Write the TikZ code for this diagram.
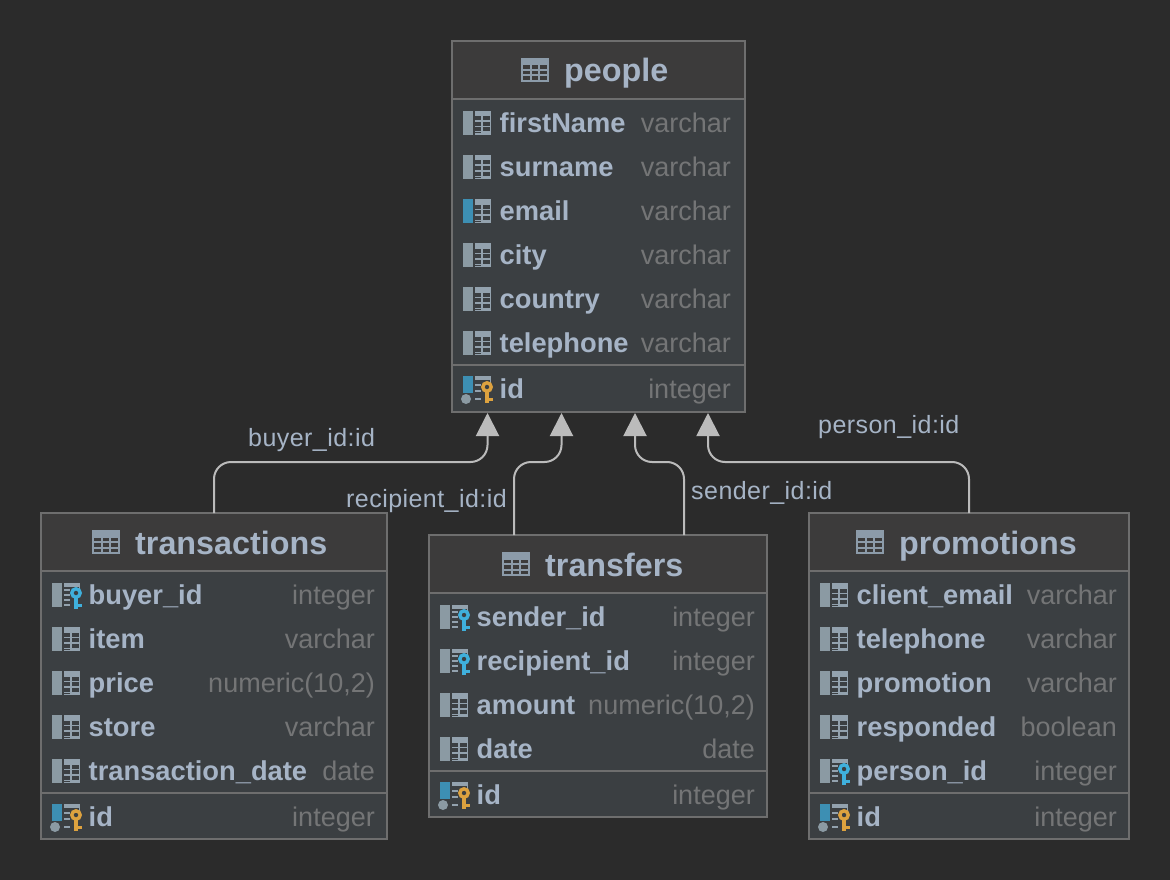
\documentclass[tikz,border=0pt]{standalone}
\usepackage{fontspec}
\setmainfont{Liberation Sans}
\usetikzlibrary{arrows.meta}
\definecolor{bgc}{HTML}{2B2B2B}
\definecolor{headc}{HTML}{3C3B3B}
\definecolor{bodyc}{HTML}{3B3F42}
\definecolor{edgec}{HTML}{6E6E6E}
\definecolor{textc}{HTML}{A6B4C6}
\definecolor{typec}{HTML}{747576}
\definecolor{iconc}{HTML}{93A2AE}
\definecolor{ticonc}{HTML}{8C9BA9}
\definecolor{barc}{HTML}{8B9AA3}
\definecolor{idxc}{HTML}{3D8FB3}
\definecolor{fkc}{HTML}{3FB0DC}
\definecolor{pkc}{HTML}{DDA23F}
\definecolor{linkc}{HTML}{BBBBBB}
\tikzset{
  tablebox/.style={draw=edgec,line width=2pt,fill=bodyc,anchor=north west,inner sep=0pt,outer sep=0pt},
  sepline/.style={draw=edgec,line width=2pt},
  titletext/.style={anchor=base west,inner sep=0pt,text=textc,font=\fontsize{32.3}{36}\selectfont\bfseries},
  nametext/.style={anchor=base west,inner sep=0pt,text=textc,font=\fontsize{27.3}{32}\selectfont\bfseries},
  typetext/.style={anchor=base east,inner sep=0pt,text=typec,font=\fontsize{27}{32}\selectfont},
  linktext/.style={anchor=base west,inner sep=0pt,text=textc,font=\fontsize{25}{30}\selectfont\addfontfeature{LetterSpace=1.8}},
  link/.style={draw=linkc,line width=2pt,rounded corners=17pt,
    -{Triangle[width=23pt,length=23pt,fill=linkc,color=linkc]}}
}
% table: name, x, y, w, h, header line y, lower line y
\newcommand{\dbtable}[7]{%
  \node[tablebox,minimum width=#4pt,minimum height=#5pt] (#1) at (#2,#3) {};
  \fill[headc] (#2+1,#3+1) rectangle (#2+#4-1,#6);
  \draw[sepline] (#2,#6) -- (#2+#4,#6);
  \draw[sepline] (#2,#7) -- (#2+#4,#7);
}
\newcommand{\titleicon}[2]{%
  \begin{scope}[shift={(#1,#2)}]
    \fill[ticonc] (0,0) rectangle (28,24);
    \foreach \cx in {2,10.67,19.33}{\foreach \cy in {7.5,13,18.5}{%
      \fill[headc] (\cx,\cy) rectangle (\cx+6.67,\cy+3.5);}}
  \end{scope}}
\newcommand{\gridicon}[3]{% x y barcolour
  \begin{scope}[shift={(#1,#2)}]
    \fill[#3] (0,-12) rectangle (10,12);
    \fill[iconc] (12,-12) rectangle (28,12);
    \foreach \cy in {-6.5,-1,4.5}{%
      \fill[bodyc] (12,\cy) rectangle (18,\cy+4);
      \fill[bodyc] (19.5,\cy) rectangle (26.5,\cy+4);}
    \fill[bodyc] (12,9.5) rectangle (18,10.5);
  \end{scope}}
\newcommand{\keyshape}[1]{%
  \fill[#1] (22,-2) rectangle (26,14);
  \fill[#1] (26,9) rectangle (30,12);
  \draw[#1,line width=3.4pt,fill=bodyc] (24,-2) circle (4.2);}
\newcommand{\fkicon}[2]{%
  \begin{scope}[shift={(#1,#2)}]
    \fill[barc] (0,-12) rectangle (10,12);
    \fill[iconc] (12,-12) rectangle (28,-8);
    \fill[iconc] (27,-8) rectangle (28,-5);
    \foreach \cy in {-5,0,5,10}{\fill[iconc] (12,\cy-1) rectangle (18,\cy+1);}
    \keyshape{fkc}
  \end{scope}}
\newcommand{\pkicon}[2]{%
  \begin{scope}[shift={(#1,#2)}]
    \fill[idxc] (0,-13) rectangle (10,4);
    \fill[barc] (3,10) circle (5);
    \fill[iconc] (12,-13) rectangle (28,-9);
    \fill[iconc] (27,-9) rectangle (28,-6);
    \foreach \cy in {-4,2,10}{\fill[iconc] (12,\cy-1) rectangle (18,\cy+1);}
    \keyshape{pkc}
  \end{scope}}
% row: id, icon x, y, right x, name, type
\newcommand{\rowtext}[6]{%
  \node[nametext] (#1n) at (#2+36.5,#3+9) {#5};
  \node[typetext] (#1t) at (#4,#3+9) {#6};}
\begin{document}
\begin{tikzpicture}[x=1pt,y=-1pt]
\fill[bgc] (0,0) rectangle (1170,880);
\useasboundingbox (0,0) rectangle (1170,880);

% people
\dbtable{people}{452}{41}{293}{371}{99}{365}
\titleicon{521}{58}
\node[titletext] (peopleTitle) at (564,82) {people};
\gridicon{463}{123}{barc}\rowtext{pa}{463}{123}{731}{firstName}{varchar}
\gridicon{463}{167}{barc}\rowtext{pb}{463}{167}{731}{surname}{varchar}
\gridicon{463}{211}{idxc}\rowtext{pc}{463}{211}{731}{email}{varchar}
\gridicon{463}{255}{barc}\rowtext{pd}{463}{255}{731}{city}{varchar}
\gridicon{463}{299}{barc}\rowtext{pe}{463}{299}{731}{country}{varchar}
\gridicon{463}{343}{barc}\rowtext{pf}{463}{343}{731}{telephone}{varchar}
\pkicon{463}{389}\rowtext{pg}{463}{389}{731}{id}{integer}

% transactions
\dbtable{transactions}{41}{513}{346}{326}{571}{793}
\titleicon{92}{530}
\node[titletext] (transactionsTitle) at (135,554) {transactions};
\fkicon{52}{595}\rowtext{ta}{52}{595}{375}{buyer\_id}{integer}
\gridicon{52}{639}{barc}\rowtext{tb}{52}{639}{375}{item}{varchar}
\gridicon{52}{683}{barc}\rowtext{tc}{52}{683}{375}{price}{numeric(10,2)}
\gridicon{52}{727}{barc}\rowtext{td}{52}{727}{375}{store}{varchar}
\gridicon{52}{771}{barc}\rowtext{te}{52}{771}{375}{transaction\_date}{date}
\pkicon{52}{817}\rowtext{tf}{52}{817}{375}{id}{integer}

% transfers
\dbtable{transfers}{429}{535}{338}{282}{593}{771}
\titleicon{502}{552}
\node[titletext] (transfersTitle) at (545,576) {transfers};
\fkicon{440}{617}\rowtext{ra}{440}{617}{755}{sender\_id}{integer}
\fkicon{440}{661}\rowtext{rb}{440}{661}{755}{recipient\_id}{integer}
\gridicon{440}{705}{barc}\rowtext{rc}{440}{705}{755}{amount}{numeric(10,2)}
\gridicon{440}{749}{barc}\rowtext{rd}{440}{749}{755}{date}{date}
\pkicon{440}{795}\rowtext{re}{440}{795}{755}{id}{integer}

% promotions
\dbtable{promotions}{809}{513}{320}{326}{571}{793}
\titleicon{856}{530}
\node[titletext] (promotionsTitle) at (899,554) {promotions};
\gridicon{820}{595}{barc}\rowtext{ma}{820}{595}{1117}{client\_email}{varchar}
\gridicon{820}{639}{barc}\rowtext{mb}{820}{639}{1117}{telephone}{varchar}
\gridicon{820}{683}{barc}\rowtext{mc}{820}{683}{1117}{promotion}{varchar}
\gridicon{820}{727}{barc}\rowtext{md}{820}{727}{1117}{responded}{boolean}
\fkicon{820}{771}\rowtext{me}{820}{771}{1117}{person\_id}{integer}
\pkicon{820}{817}\rowtext{mf}{820}{817}{1117}{id}{integer}

% connectors
\coordinate (bus) at (0,462);
\coordinate (p1) at (487.5,413);
\coordinate (p2) at (561.5,413);
\coordinate (p3) at (635,413);
\coordinate (p4) at (708,413);
\coordinate (s1) at (514,535);
\coordinate (s2) at (684,535);
\draw[link] (transactions.north) -- (transactions.north |- bus) -- (p1 |- bus) -- (p1);
\draw[link] (s1) -- (s1 |- bus) -- (p2 |- bus) -- (p2);
\draw[link] (s2) -- (s2 |- bus) -- (p3 |- bus) -- (p3);
\draw[link] (promotions.north) -- (promotions.north |- bus) -- (p4 |- bus) -- (p4);

\node[linktext] (l1) at (248,446) {buyer\_id:id};
\node[linktext] (l2) at (346,507) {recipient\_id:id};
\node[linktext] (l3) at (691,499) {sender\_id:id};
\node[linktext] (l4) at (818,433) {person\_id:id};
\end{tikzpicture}
\end{document}
